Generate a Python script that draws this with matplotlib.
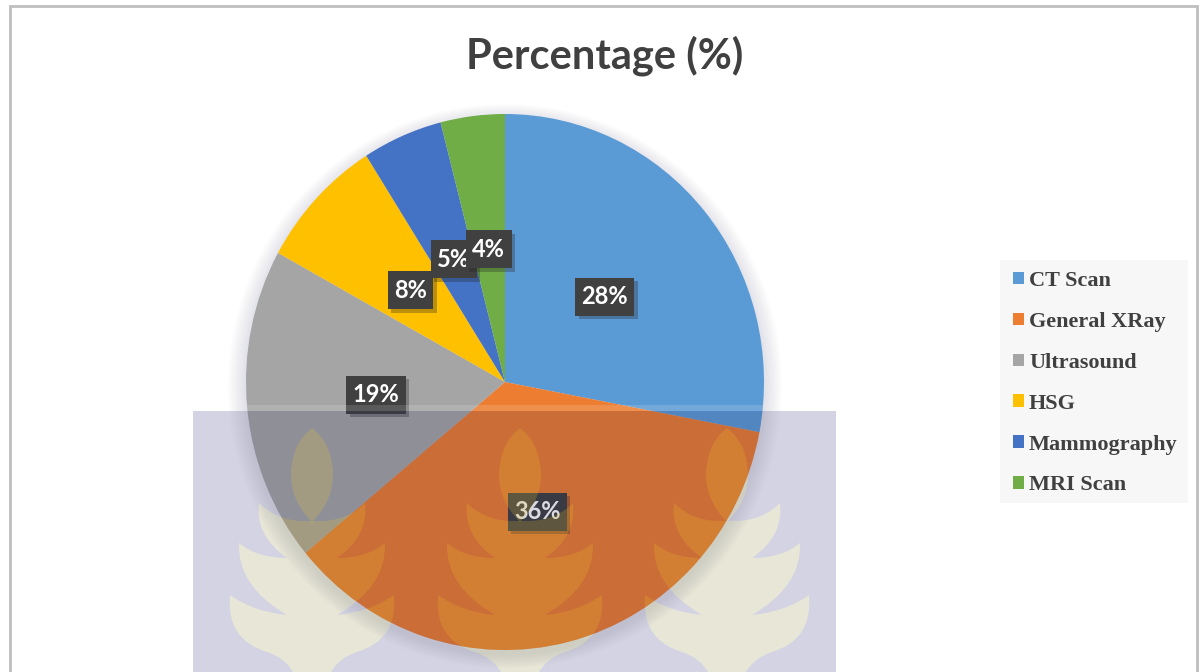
import numpy as np
import matplotlib
matplotlib.use('Agg')
import matplotlib.pyplot as plt
import matplotlib.patheffects as pe
from matplotlib.patches import Ellipse, PathPatch, Rectangle
from matplotlib.path import Path

categories = ['CT Scan', 'General XRay', 'Ultrasound', 'HSG', 'Mammography', 'MRI Scan']
values = [28, 36, 19, 8, 5, 4]
colors = ['#5B9BD5', '#ED7D31', '#A5A5A5', '#FFC000', '#4472C4', '#70AD47']

W, H = 1204, 672
CX, CY, RX, RY = 505, 382, 259, 268
plant_x = [312, 520, 727]

# outline of the watermark, right half only: (control point, end point)
leaf_start = (0, 428)
leaf_half = [((19, 442), (21, 472)), ((22, 500), (0, 522))]
body_start = (10, 521)
body_half = [((36, 520), (53, 503)), ((57, 536), (25, 558)),
             ((55, 558), (73, 543)), ((75, 586), (25, 615)),
             ((58, 612), (82, 595)), ((86, 640), (45, 652)),
             ((26, 658), (18, 674))]


def mirrored_path(cx, start, half):
    verts = [(cx + start[0], start[1])]
    codes = [Path.MOVETO]
    for ctrl, end in half:
        verts += [(cx + ctrl[0], ctrl[1]), (cx + end[0], end[1])]
        codes += [Path.CURVE3, Path.CURVE3]
    ends = [start] + [seg[1] for seg in half]
    verts.append((cx - ends[-1][0], ends[-1][1]))
    codes.append(Path.LINETO)
    for i in range(len(half) - 1, -1, -1):
        ctrl = half[i][0]
        verts += [(cx - ctrl[0], ctrl[1]), (cx - ends[i][0], ends[i][1])]
        codes += [Path.CURVE3, Path.CURVE3]
    return Path(verts, codes)


def plant_paths(cx):
    return [mirrored_path(cx, leaf_start, leaf_half), mirrored_path(cx, body_start, body_half)]


fig = plt.figure(figsize=(W / 100, H / 100), dpi=100, facecolor='white')

# background layer in pixel coordinates
bg = fig.add_axes([0, 0, 1, 1], zorder=0)
bg.set_xlim(0, W)
bg.set_ylim(H, 0)
bg.axis('off')
bg.add_patch(Rectangle((10, 6), 1187, 700, fc='white', ec='#BEBEBE', lw=2))
bg.add_patch(Rectangle((193, 411), 643, 261, fc='#D3D3E4', ec='none'))
for x in plant_x:
    for p in plant_paths(x):
        bg.add_patch(PathPatch(p, fc='#E8E6D6', ec='none'))
for grow in range(1, 11):
    bg.add_patch(Ellipse((CX, CY + 4), 2 * (RX + grow * 1.8), 2 * (RY + grow * 1.4),
                         fc='#303050', ec='none', alpha=0.012))
bg.text(605, 56, 'Percentage (%)', ha='center', va='center', fontsize=30,
        fontweight='bold', family='Lato', color='#404040')
bg.add_patch(Rectangle((1000, 260), 188, 243, fc='#F7F7F7', ec='none'))

# the pie itself
ax = fig.add_axes([(CX - RX) / W, 1 - (CY + RY) / H, 2 * RX / W, 2 * RY / H], zorder=1)
ax.patch.set_alpha(0)
wedges, texts, pcts = ax.pie(values, colors=colors, startangle=90, counterclock=False,
                             autopct='%.0f%%', pctdistance=0.5, radius=1)
ax.set_aspect('auto')
ax.set_xlim(-1, 1)
ax.set_ylim(-1, 1)
for t in pcts:
    t.set_color('white')
    t.set_fontsize(17)
    t.set_fontweight('bold')
    t.set_family('Lato')
    t.set_bbox(dict(boxstyle='square,pad=0.27', fc='#404040', ec='none', mutation_aspect=1.18))
    t.get_bbox_patch().set_path_effects([
        pe.SimplePatchShadow(offset=(2.5, -2.5), shadow_rgbFace='#202020', alpha=0.3),
        pe.Normal()])

# watermark tint on top of the pie, clipped to the ellipse
ov = fig.add_axes([0, 0, 1, 1], zorder=2)
ov.set_xlim(0, W)
ov.set_ylim(H, 0)
ov.axis('off')
clip = Ellipse((CX, CY), 2 * RX, 2 * RY, transform=ov.transData)
tint = ov.add_patch(Rectangle((193, 411), 643, 261, fc='#1E1E5A', ec='none', alpha=0.16))
tint.set_clip_path(clip)
for x in plant_x:
    for p in plant_paths(x):
        leaf = ov.add_patch(PathPatch(p, fc='#F0C828', ec='none', alpha=0.2))
        leaf.set_clip_path(clip)
band = ov.add_patch(Rectangle((193, 405), 643, 6, fc='white', ec='none', alpha=0.14))
band.set_clip_path(clip)

leg = ov.legend(wedges, categories, loc='upper left', bbox_to_anchor=(1013 / W, 1 - 271 / H),
                bbox_transform=fig.transFigure, frameon=False, borderaxespad=0, borderpad=0,
                handlelength=0.5, handleheight=0.5, handletextpad=0.22, labelspacing=0.94,
                prop={'family': 'Liberation Serif', 'weight': 'bold', 'size': 16})
for t in leg.get_texts():
    t.set_color('#404040')

fig.savefig('out.png', dpi=100)
